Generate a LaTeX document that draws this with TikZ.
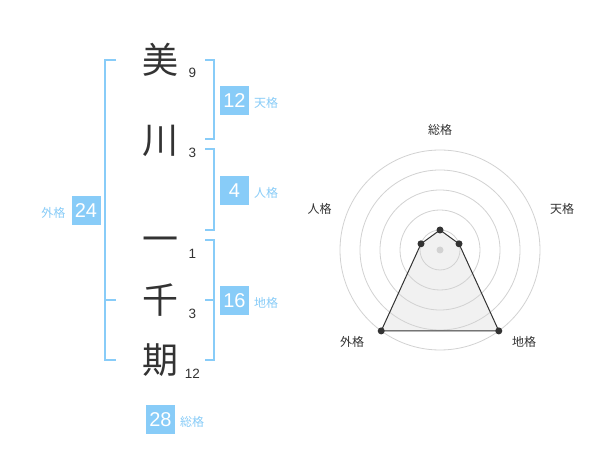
\documentclass[tikz,border=0pt]{standalone}
\usepackage{fontspec}
\setmainfont{Liberation Sans}
\newfontfamily\jp{Noto Sans CJK JP}
\definecolor{sky}{RGB}{136,204,248}
\definecolor{ink}{RGB}{51,51,51}
\definecolor{ring}{RGB}{210,210,210}
\definecolor{area}{RGB}{238,238,238}
\tikzset{
  kanji/.style={font=\jp\fontsize{36}{36}\selectfont, text=ink, anchor=base, inner sep=0},
  stroke/.style={font=\fontsize{13.5}{14}\selectfont, text=ink, anchor=base, inner sep=0},
  valbox/.style={fill=sky, text=white, minimum size=29pt, inner sep=0, font=\fontsize{20}{20}\selectfont},
  kaku/.style={font=\jp\fontsize{12}{12}\selectfont, text=sky, inner sep=0},
  bracket/.style={draw=sky, line width=2pt},
  axislabel/.style={font=\jp\fontsize{12}{12}\selectfont, text=ink, inner sep=0},
  dot/.style={fill=ink},
}
\begin{document}
\begin{tikzpicture}[x=1pt,y=-1pt]
\useasboundingbox[fill=white] (0,0) rectangle (600,470);
% kanji
\node[kanji] (k1) at (160,73.7) {美};
\node[kanji] (k2) at (160,153.7) {川};
\node[kanji] (k3) at (160,252.5) {一};
\node[kanji] (k4) at (160,313.7) {千};
\node[kanji] (k5) at (160,373.7) {期};
% stroke counts
\node[stroke] (n1) at (192.5,78) {9};
\node[stroke] (n2) at (192.5,158) {3};
\node[stroke] (n3) at (192.5,258.5) {1};
\node[stroke] (n4) at (192.5,318.5) {3};
\node[stroke] (n5) at (192.5,378) {12};
% brackets
\draw[bracket] (116,60) -- (105,60) -- (105,360) -- (116,360);
\draw[bracket] (105,300) -- (116,300);
\draw[bracket] (205,60) -- (214,60) -- (214,139) -- (205,139);
\draw[bracket] (205,149) -- (214,149) -- (214,230) -- (205,230);
\draw[bracket] (205,240) -- (214,240) -- (214,360) -- (205,360);
\draw[bracket] (205,300) -- (214,300);
% value boxes
\node[valbox] (gai) at (86,210.5) {24};
\node[kaku] (gail) at (53.5,213) {外格};
\node[valbox] (ten) at (234.5,100.5) {12};
\node[kaku] (tenl) at (266,103) {天格};
\node[valbox] (jin) at (234.5,190.5) {4};
\node[kaku] (jinl) at (266,193) {人格};
\node[valbox] (chi) at (234.5,300.5) {16};
\node[kaku] (chil) at (266,303) {地格};
\node[valbox] (so) at (160.5,419.5) {28};
\node[kaku] (sol) at (192,422) {総格};
% radar
\coordinate (c) at (440,250);
\coordinate (pso) at (440,230);
\coordinate (pten) at (459.0,243.8);
\coordinate (pchi) at (498.8,330.9);
\coordinate (pgai) at (381.2,330.9);
\coordinate (pjin) at (421.0,243.8);
\fill[area, opacity=0.8] (pso) -- (pten) -- (pchi) -- (pgai) -- (pjin) -- cycle;
\foreach \r in {20,40,60,80,100} \draw[ring, line width=0.8pt] (c) circle[radius=\r pt];
\fill[ring] (c) circle[radius=3.5pt];
\draw[ink, line width=1pt] (pso) -- (pten) -- (pchi) -- (pgai) -- (pjin) -- cycle;
\foreach \p in {pso,pten,pchi,pgai,pjin} \fill[dot] (\p) circle[radius=3.5pt];
\node[axislabel] (lso) at (440,130) {総格};
\node[axislabel] (lten) at (562,208.5) {天格};
\node[axislabel] (ljin) at (319.5,208.5) {人格};
\node[axislabel] (lgai) at (352,341.5) {外格};
\node[axislabel] (lchi) at (524,341.5) {地格};
\end{tikzpicture}
\end{document}
